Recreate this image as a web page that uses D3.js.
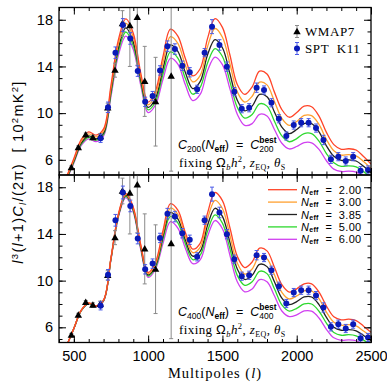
<!DOCTYPE html>
<html><head><meta charset="utf-8">
<script src="https://cdn.jsdelivr.net/npm/d3@7"></script>
<style>body{margin:0;background:#fff}svg{display:block}</style>
</head><body><svg id="c" width="387" height="383"></svg>
<script>
// ---------- data ----------
const ells = [400,450,500,550,600,650,700,750,800,850,900,950,1000,1050,1100,1150,1200,1250,1300,1350,1400,1450,1500,1550,1600,1650,1700,1750,1800,1850,1900,1950,2000,2050,2100,2150,2200,2250,2300,2350,2400,2450,2500];
const neffLabels = ["2.00","3.00","3.85","5.00","6.00"];
const neffColors = ["#ff4428","#ffa030","#222222","#2ed82e","#d040f0"];

// top panel: normalised at l=200
const topN200 = [3.26,4.55,6.12,7.75,8.4,8.12,8.65,12.4,16.3,18.08,16.85,13.45,10.95,11.95,14.85,17.2,16.6,14.7,13.2,13.8,16.4,18.1,17.35,15.0,12.45,11.6,12.25,13.6,13.35,11.8,10.3,9.65,10.05,10.6,10.55,9.75,8.35,7.3,6.9,6.95,6.84,6.28,5.64];
const topN300 = [3.23,4.48,6.01,7.6,8.22,7.96,8.47,12.15,15.95,17.7,16.5,13.17,10.72,11.62,14.33,16.55,15.98,14.12,12.68,13.22,15.7,17.25,16.5,14.25,11.82,10.95,11.45,12.65,12.42,11.0,9.55,8.95,9.28,9.8,9.78,9.03,7.74,6.77,6.4,6.45,6.34,5.85,5.25];
const topN385 = [3.2,4.4,5.9,7.45,8.05,7.8,8.3,11.9,15.6,17.3,16.1,12.9,10.5,11.3,13.8,15.85,15.3,13.5,12.1,12.7,15.0,16.3,15.6,13.4,11.1,10.2,10.6,11.6,11.4,10.1,8.8,8.25,8.6,9.1,9.1,8.4,7.2,6.3,5.95,6.0,5.9,5.45,4.9];
const topN500 = [3.17,4.34,5.82,7.34,7.93,7.68,8.17,11.68,15.3,16.95,15.78,12.65,10.28,11.0,13.35,15.25,14.72,12.98,11.62,12.2,14.3,15.53,14.85,12.72,10.5,9.58,9.88,10.8,10.6,9.3,8.05,7.55,7.82,8.25,8.24,7.6,6.53,5.75,5.44,5.49,5.4,4.99,4.48];
const topN600 = [3.14,4.28,5.73,7.23,7.8,7.56,8.05,11.45,14.98,16.6,15.45,12.4,10.05,10.72,12.9,14.7,14.2,12.45,11.07,11.6,13.65,14.8,14.15,12.1,9.9,8.95,9.1,9.9,9.75,8.6,7.42,6.93,7.14,7.48,7.46,6.9,5.92,5.2,5.0,5.04,4.95,4.58,4.12];

// bottom panel: normalised at l=400
const botN200 = [3.2,4.41,5.92,7.48,8.09,7.84,8.35,11.98,15.72,17.47,16.3,13.1,10.7,11.6,14.3,16.6,16.05,14.15,12.7,13.2,15.8,17.55,16.85,14.55,12.08,11.12,11.6,12.78,12.55,11.15,9.65,9.02,9.3,9.73,9.73,9.02,7.83,6.9,6.64,6.7,6.58,6.1,5.58];
const botN300 = [3.2,4.4,5.91,7.46,8.07,7.82,8.32,11.94,15.66,17.38,16.2,13.0,10.6,11.45,14.05,16.22,15.67,13.83,12.4,12.85,15.3,16.88,16.18,13.9,11.5,10.56,11.0,12.1,11.88,10.5,9.0,8.43,8.69,9.12,9.12,8.45,7.3,6.43,6.18,6.23,6.12,5.68,5.2];
const botN385 = [3.2,4.4,5.9,7.45,8.05,7.8,8.3,11.9,15.6,17.3,16.1,12.9,10.5,11.3,13.8,15.85,15.3,13.5,12.1,12.5,14.75,16.2,15.5,13.3,11.0,10.1,10.45,11.4,11.2,9.9,8.5,7.95,8.2,8.6,8.6,7.95,6.85,6.0,5.75,5.8,5.7,5.3,4.85];
const botN500 = [3.2,4.4,5.89,7.44,8.03,7.78,8.28,11.86,15.54,17.22,16.0,12.8,10.4,11.15,13.55,15.5,14.95,13.18,11.8,12.18,14.25,15.63,14.93,12.75,10.45,9.6,9.9,10.8,10.6,9.3,7.92,7.39,7.63,8.0,8.0,7.38,6.36,5.56,5.32,5.37,5.27,4.9,4.49];
const botN600 = [3.2,4.39,5.88,7.42,8.01,7.76,8.25,11.82,15.46,17.12,15.88,12.68,10.28,11.0,13.2,15.05,14.5,12.8,11.45,11.78,13.8,15.15,14.45,12.2,9.9,9.04,9.28,10.09,9.9,8.7,7.4,6.92,7.07,7.4,7.38,6.8,5.83,5.1,4.89,4.93,4.85,4.5,4.12];

// WMAP7 band powers
const wmapL = [483,530,580,628,678,728,777,827,877,927,977,1050,1155];
const wmapV = [5.33,7.05,8.15,7.9,8.0,10.45,13.68,17.68,17.5,18.2,12.72,10.98,13.18];
const wmapErr = [0.15,0.15,0.15,0.2,0.25,0.4,0.6,1.1,3.5,4.1,3.0,3.8,8.15];

// SPT K11 band powers
const sptL = [680,730,780,830,880,930,980,1030,1080,1130,1180,1230,1280,1330,1380,1430,1480,1530,1580,1630,1680,1730,1780,1830,1880,1930,1980,2030,2080,2130,2180,2230,2280,2330,2380,2430,2480];
const sptV = [7.84,10.5,15.17,17.55,16.4,13.6,10.97,11.46,13.66,15.74,15.49,14.06,13.5,12.04,15.18,17.41,15.84,13.98,11.84,10.38,10.46,12.18,11.98,10.89,9.52,8.04,8.98,9.18,9.18,8.72,7.70,6.04,6.27,5.9,6.27,5.07,5.13];
const sptErr = [0.35,0.45,0.5,0.55,0.5,0.45,0.4,0.4,0.4,0.45,0.45,0.4,0.4,0.35,0.35,0.6,0.45,0.4,0.35,0.35,0.35,0.4,0.35,0.35,0.35,0.35,0.35,0.35,0.35,0.35,0.4,0.35,0.35,0.35,0.35,0.35,0.35];

const xTicks = [500,1000,1500,2000,2500];
const yTicks = [6,10,14,18];

// ---------- layout ----------
const svg = d3.select("#c");
const X0 = 59, X1 = 371, PH = 167.5;
const panelTops = [7.5, 175];
const x = d3.scaleLinear().domain([400,2500]).range([X0,X1]);
const yDomain = [4.7, 19.05];

const SANS = "'Liberation Sans', Arial, sans-serif";
const SERIF = "'Liberation Serif', 'Times New Roman', serif";

function addRich(g, x0, y0, parts, size, family, anchor){
  const t = g.append("text").attr("x", x0).attr("y", y0)
    .attr("font-family", family).attr("font-size", size).attr("fill","#000")
    .style("white-space","pre");
  if (anchor) t.attr("text-anchor", anchor);
  let shift = 0;
  parts.forEach(p => {
    const ts = t.append("tspan").text(p.t);
    const s = p.shift || 0;
    ts.attr("dy", s - shift); shift = s;
    if (p.size) ts.attr("font-size", p.size);
    if (p.italic) ts.attr("font-style","italic");
    if (p.bold) ts.attr("font-weight","bold");
    if (p.family) ts.attr("font-family", p.family);
    if (p.dx) ts.attr("dx", p.dx);
    if (p.back) { const w = t.selectAll("tspan").nodes(); const prev = w[w.length-2]; ts.attr("dx", -prev.getComputedTextLength()); }
  });
  return t;
}

const topCurves = [topN200, topN300, topN385, topN500, topN600];
const botCurves = [botN200, botN300, botN385, botN500, botN600];

[topCurves, botCurves].forEach((curves, pi) => {
  const top = panelTops[pi];
  const y = d3.scaleLinear().domain(yDomain).range([top+PH, top]);
  const g = svg.append("g");
  const clipId = "clip"+pi;
  svg.append("clipPath").attr("id", clipId).append("rect")
    .attr("x", X0).attr("y", top).attr("width", X1-X0).attr("height", PH);
  const plot = g.append("g").attr("clip-path", `url(#${clipId})`);

  const line = d3.line().x((d,i)=>x(ells[i])).y(d=>y(d)).curve(d3.curveCatmullRom.alpha(0.5));
  [4,3,2,1,0].forEach(k => {
    plot.append("path").datum(curves[k]).attr("d", line)
      .attr("fill","none").attr("stroke", neffColors[k]).attr("stroke-width",1.3);
  });

  // WMAP7 error bars + triangles
  wmapL.forEach((l,i) => {
    const cx = x(l);
    plot.append("line").attr("x1",cx).attr("x2",cx)
      .attr("y1", y(wmapV[i]-wmapErr[i])).attr("y2", y(wmapV[i]+wmapErr[i]))
      .attr("stroke","#8a8a8a").attr("stroke-width",1);
    [wmapV[i]-wmapErr[i], wmapV[i]+wmapErr[i]].forEach(v => {
      plot.append("line").attr("x1",cx-2).attr("x2",cx+2).attr("y1",y(v)).attr("y2",y(v))
        .attr("stroke","#8a8a8a").attr("stroke-width",1);
    });
  });
  plot.selectAll(null).data(wmapL).join("path")
    .attr("d", d3.symbol(d3.symbolTriangle, 24))
    .attr("transform",(d,i)=>`translate(${x(d)},${y(wmapV[i])+0.5})`)
    .attr("fill","#000");

  // SPT error bars + circles
  sptL.forEach((l,i) => {
    const cx = x(l);
    plot.append("line").attr("x1",cx).attr("x2",cx)
      .attr("y1", y(sptV[i]-sptErr[i])).attr("y2", y(sptV[i]+sptErr[i]))
      .attr("stroke","#4a5ae8").attr("stroke-width",1);
    [sptV[i]-sptErr[i], sptV[i]+sptErr[i]].forEach(v => {
      plot.append("line").attr("x1",cx-2).attr("x2",cx+2).attr("y1",y(v)).attr("y2",y(v))
        .attr("stroke","#4a5ae8").attr("stroke-width",1);
    });
  });
  plot.selectAll(null).data(sptL).join("circle")
    .attr("cx", d=>x(d)).attr("cy",(d,i)=>y(sptV[i])).attr("r",3)
    .attr("fill","#0a1ab8");

  // axes (ticks inward on all sides)
  const axG = g.append("g").attr("font-family", SANS);
  const minorY = d3.range(5,19);
  const minorX = d3.range(400,2501,100);
  axG.append("g").attr("transform",`translate(${X0},0)`)
    .call(d3.axisLeft(y).tickValues(yTicks).tickSizeInner(-7).tickSizeOuter(0).tickPadding(6).tickFormat(d3.format("d")));
  axG.append("g").attr("transform",`translate(${X0},0)`)
    .call(d3.axisLeft(y).tickValues(minorY).tickSizeInner(-3.5).tickSizeOuter(0).tickFormat(""));
  axG.append("g").attr("transform",`translate(${X1},0)`)
    .call(d3.axisRight(y).tickValues(yTicks).tickSizeInner(-7).tickSizeOuter(0).tickFormat(""));
  axG.append("g").attr("transform",`translate(${X1},0)`)
    .call(d3.axisRight(y).tickValues(minorY).tickSizeInner(-3.5).tickSizeOuter(0).tickFormat(""));
  axG.append("g").attr("transform",`translate(0,${top})`)
    .call(d3.axisTop(x).tickValues(xTicks).tickSizeInner(-7).tickSizeOuter(0).tickFormat(""));
  axG.append("g").attr("transform",`translate(0,${top})`)
    .call(d3.axisTop(x).tickValues(minorX).tickSizeInner(-3.5).tickSizeOuter(0).tickFormat(""));
  axG.append("g").attr("transform",`translate(0,${top+PH})`)
    .call(d3.axisBottom(x).tickValues(xTicks).tickSizeInner(-7).tickSizeOuter(0).tickPadding(8)
      .tickFormat(pi===1 ? d3.format("d") : ""));
  axG.append("g").attr("transform",`translate(0,${top+PH})`)
    .call(d3.axisBottom(x).tickValues(minorX).tickSizeInner(-3.5).tickSizeOuter(0).tickFormat(""));
  axG.selectAll(".domain").remove();
  axG.selectAll("line").attr("stroke","#000").attr("stroke-width",1);
  axG.selectAll("text").attr("font-size",14.5).attr("fill","#000").attr("font-family",SANS);

  // frame
  g.append("rect").attr("x",X0).attr("y",top).attr("width",X1-X0).attr("height",PH)
    .attr("fill","none").attr("stroke","#000").attr("stroke-width",1.3);

  // annotation
  const sub = pi===0 ? "200" : "400";
  const ann = g.append("g");
  addRich(ann, 178, top+141, [
    {t:"C", italic:true}, {t:sub, size:8.5, shift:3},
    {t:"(", shift:0}, {t:"N", italic:true}, {t:"eff", size:8.5, shift:3, bold:true},
    {t:")  =  ", shift:0}, {t:"C", italic:true}, {t:"best", size:8.5, shift:-6, bold:true},
    {t:sub, size:8.5, shift:3, back:true}
  ], 12.5, SANS);
  addRich(ann, 179, top+159, [
    {t:"fixing "}, {t:"Ω", family:SANS}, {t:"b", size:8.5, shift:3, italic:true},
    {t:"h", italic:true, shift:0}, {t:"2", size:8.5, shift:-5}, {t:", ", shift:0},
    {t:"z", italic:true}, {t:"EQ", size:8, shift:3}, {t:", ", shift:0},
    {t:"θ", italic:true}, {t:"S", size:8, shift:3}
  ], 13, SERIF).attr("letter-spacing", 0.4);

  // legends
  if (pi===0) {
    const lg = g.append("g");
    const rows = [{y:31.5, lab:"WMAP7", c:"#8a8a8a", m:"tri"}, {y:48.5, lab:"SPT  K11", c:"#4a5ae8", m:"circ"}];
    rows.forEach(r => {
      const cx = 297;
      lg.append("line").attr("x1",cx).attr("x2",cx).attr("y1",r.y-6).attr("y2",r.y+6)
        .attr("stroke", r.c).attr("stroke-width",1);
      [r.y-6, r.y+6].forEach(v => lg.append("line").attr("x1",cx-2).attr("x2",cx+2).attr("y1",v).attr("y2",v).attr("stroke",r.c));
      if (r.m==="tri") lg.append("path").attr("d", d3.symbol(d3.symbolTriangle,24)).attr("transform",`translate(${cx},${r.y+0.5})`).attr("fill","#000");
      else lg.append("circle").attr("cx",cx).attr("cy",r.y).attr("r",3).attr("fill","#0a1ab8");
      lg.append("text").attr("x",305).attr("y",r.y+4.5).attr("font-family",SERIF).attr("font-size",13)
        .attr("letter-spacing",0.6).style("white-space","pre").text(r.lab);
    });
  } else {
    const lg = g.append("g");
    neffLabels.forEach((lab,k) => {
      const yy = 189.7 + k*12.4;
      lg.append("line").attr("x1",268).attr("x2",297).attr("y1",yy).attr("y2",yy)
        .attr("stroke", neffColors[k]).attr("stroke-width",1.3);
      addRich(lg, 301, yy+4, [
        {t:"N", italic:true}, {t:"eff", size:7, shift:1, bold:true}, {t:"  =  "+lab, shift:0}
      ], 11, SANS).attr("letter-spacing", 0.3);
    });
  }
});

// axis titles
const xl = svg.append("text").attr("x", 215).attr("y", 378).attr("text-anchor","middle")
  .attr("font-family", SERIF).attr("font-size", 14.5).attr("letter-spacing", 1)
  .style("white-space","pre");
xl.append("tspan").text("Multipoles (");
xl.append("tspan").attr("font-style","italic").text("l");
xl.append("tspan").text(")");

const yl = svg.append("g").attr("transform","translate(23,172) rotate(-90)");
addRich(yl, 0, 0, [
  {t:"l", italic:true}, {t:"3", size:9.5, shift:-5}, {t:"(", shift:0}, {t:"l", italic:true},
  {t:"+1)"}, {t:"C", italic:true}, {t:"l", italic:true, size:9.5, shift:3}, {t:"/(2π)  [ 10", shift:0},
  {t:"2", size:9.5, shift:-5}, {t:"mK", shift:0}, {t:"2", size:9.5, shift:-5}, {t:"]", shift:0}
], 14.5, SANS, "middle").attr("letter-spacing", 1.3);
</script></body></html>
